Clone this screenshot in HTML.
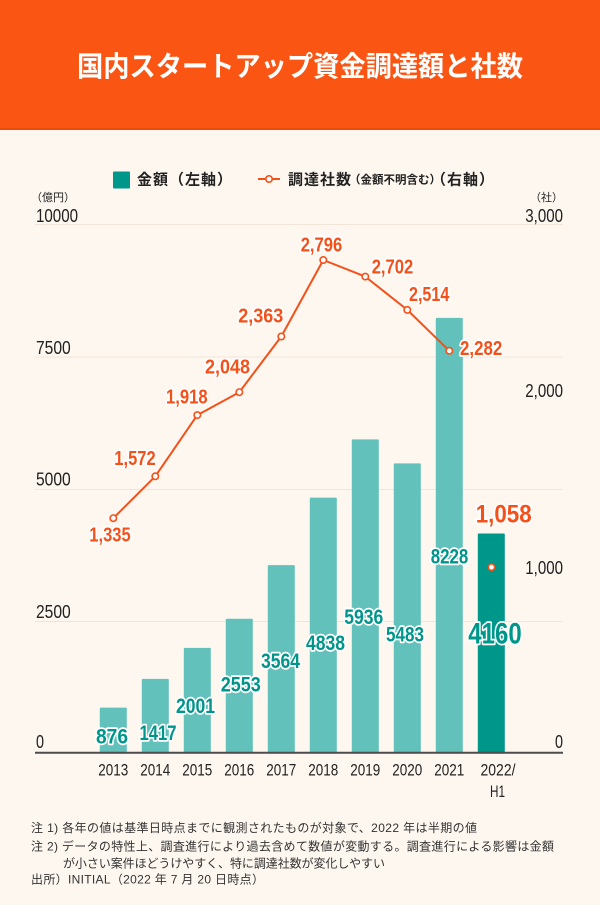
<!DOCTYPE html>
<html>
<head>
<meta charset="utf-8">
<style>
  html,body{margin:0;padding:0;background:#FEF7F0;}
  body{width:600px;height:905px;overflow:hidden;}
  svg{display:block;}
  .n{font-family:"Liberation Sans",sans-serif;}
  .j{font-family:"Liberation Sans","Noto Sans CJK JP",sans-serif;}
  .bl{font-family:"Liberation Sans",sans-serif;font-weight:bold;fill:#00948A;stroke:#fff;stroke-width:3.5;paint-order:stroke;stroke-linejoin:round;}
  .ol{font-family:"Liberation Sans",sans-serif;font-weight:bold;fill:#F4511A;stroke:#fff;stroke-width:3.5;paint-order:stroke;stroke-linejoin:round;}
  .ax{font-family:"Liberation Sans",sans-serif;font-size:18px;fill:#222;}
  .yr{font-family:"Liberation Sans",sans-serif;font-size:17px;fill:#222;}
  .fn{font-family:"Liberation Sans","Noto Sans CJK JP",sans-serif;font-size:12px;fill:#333;}
</style>
</head>
<body>
<svg width="600" height="905" viewBox="0 0 600 905" xmlns="http://www.w3.org/2000/svg">
  <!-- background -->
  <rect x="0" y="0" width="600" height="905" fill="#FEF7F0"/>
  <!-- header -->
  <rect x="0" y="0" width="600" height="130" fill="#FA5513"/>
  <rect x="0" y="128" width="600" height="2" fill="#EE4A0B"/>
  <text class="j" x="77" y="76" font-size="28" font-weight="bold" fill="#fff" textLength="446" lengthAdjust="spacingAndGlyphs">国内スタートアップ資金調達額と社数</text>

  <!-- legend -->
  <rect x="113" y="171.5" width="17" height="17" fill="#00978B" rx="1"/>
  <text class="j" x="137" y="184.5" font-size="15" font-weight="bold" fill="#222" letter-spacing="1">金額（左軸）</text>
  <line x1="258" y1="179" x2="280" y2="179" stroke="#F4511A" stroke-width="2"/>
  <circle cx="269" cy="179" r="3.2" fill="#fff" stroke="#F4511A" stroke-width="1.6"/>
  <text class="j" x="288" y="184.5" font-size="15" font-weight="bold" fill="#222" letter-spacing="1">調達社数</text>
  <text class="j" x="349" y="183.5" font-size="11.5" font-weight="bold" fill="#222">（金額不明含む）</text>
  <text class="j" x="431" y="184.5" font-size="15" font-weight="bold" fill="#222" letter-spacing="1">（右軸）</text>

  <!-- unit labels -->
  <text class="j" x="31" y="201" font-size="11" fill="#222">（億円）</text>
  <text class="j" x="530" y="201" font-size="11" fill="#222">（社）</text>

  <!-- gridlines -->
  <g stroke="#F2E5D8" stroke-width="1">
    <line x1="35" y1="224.5" x2="563" y2="224.5"/>
    <line x1="35" y1="357" x2="563" y2="357"/>
    <line x1="35" y1="489.5" x2="563" y2="489.5"/>
    <line x1="35" y1="621.5" x2="563" y2="621.5"/>
  </g>

  <!-- axis labels left -->
  <text class="ax" x="36" y="222" textLength="42" lengthAdjust="spacingAndGlyphs">10000</text>
  <text class="ax" x="36" y="354" textLength="34.7" lengthAdjust="spacingAndGlyphs">7500</text>
  <text class="ax" x="36" y="485.5" textLength="34.7" lengthAdjust="spacingAndGlyphs">5000</text>
  <text class="ax" x="36" y="618" textLength="34.7" lengthAdjust="spacingAndGlyphs">2500</text>
  <text class="ax" x="36" y="748" textLength="8" lengthAdjust="spacingAndGlyphs">0</text>
  <!-- axis labels right -->
  <text class="ax" x="525.3" y="222" textLength="37.7" lengthAdjust="spacingAndGlyphs">3,000</text>
  <text class="ax" x="525.3" y="397" textLength="37.7" lengthAdjust="spacingAndGlyphs">2,000</text>
  <text class="ax" x="525.3" y="574" textLength="37.7" lengthAdjust="spacingAndGlyphs">1,000</text>
  <text class="ax" x="555" y="748" textLength="8" lengthAdjust="spacingAndGlyphs">0</text>

  <!-- bars -->
  <g fill="#63C1BB">
    <rect x="99.8" y="707.6" width="27" height="46" rx="1"/>
    <rect x="141.8" y="678.9" width="27" height="74.7" rx="1"/>
    <rect x="183.8" y="647.9" width="27" height="105.7" rx="1"/>
    <rect x="225.8" y="618.7" width="27" height="134.9" rx="1"/>
    <rect x="267.8" y="565.1" width="27" height="188.5" rx="1"/>
    <rect x="309.8" y="497.6" width="27" height="256" rx="1"/>
    <rect x="351.8" y="439.4" width="27" height="314.2" rx="1"/>
    <rect x="393.8" y="463.4" width="27" height="290.2" rx="1"/>
    <rect x="435.8" y="317.9" width="27" height="435.7" rx="1"/>
  </g>
  <rect x="477.8" y="533.5" width="27" height="220.1" rx="1" fill="#00978B"/>

  <!-- baseline -->
  <line x1="35" y1="752.8" x2="563" y2="752.8" stroke="#4D4D4D" stroke-width="2"/>

  <!-- year labels -->
  <text class="yr" x="98.3" y="775.5" textLength="30" lengthAdjust="spacingAndGlyphs">2013</text>
  <text class="yr" x="140.3" y="775.5" textLength="30" lengthAdjust="spacingAndGlyphs">2014</text>
  <text class="yr" x="182.3" y="775.5" textLength="30" lengthAdjust="spacingAndGlyphs">2015</text>
  <text class="yr" x="224.3" y="775.5" textLength="30" lengthAdjust="spacingAndGlyphs">2016</text>
  <text class="yr" x="266.3" y="775.5" textLength="30" lengthAdjust="spacingAndGlyphs">2017</text>
  <text class="yr" x="308.3" y="775.5" textLength="30" lengthAdjust="spacingAndGlyphs">2018</text>
  <text class="yr" x="350.3" y="775.5" textLength="30" lengthAdjust="spacingAndGlyphs">2019</text>
  <text class="yr" x="392.3" y="775.5" textLength="30" lengthAdjust="spacingAndGlyphs">2020</text>
  <text class="yr" x="434.3" y="775.5" textLength="30" lengthAdjust="spacingAndGlyphs">2021</text>
  <text class="yr" x="480.5" y="775.5" textLength="35" lengthAdjust="spacingAndGlyphs">2022/</text>
  <text class="yr" x="490" y="797" textLength="15" lengthAdjust="spacingAndGlyphs">H1</text>

  <!-- line series -->
  <polyline fill="none" stroke="#F4511A" stroke-width="2" stroke-linejoin="round"
    points="113.3,518.2 155.3,476.3 197.3,415.1 239.3,392.2 281.3,336.5 323.3,260.0 365.3,276.6 407.3,309.9 449.3,350.8"/>
  <g fill="#fff" stroke="#F4511A" stroke-width="1.6">
    <circle cx="113.3" cy="518.2" r="3.2"/>
    <circle cx="155.3" cy="476.3" r="3.2"/>
    <circle cx="197.3" cy="415.1" r="3.2"/>
    <circle cx="239.3" cy="392.2" r="3.2"/>
    <circle cx="281.3" cy="336.5" r="3.2"/>
    <circle cx="323.3" cy="260.0" r="3.2"/>
    <circle cx="365.3" cy="276.6" r="3.2"/>
    <circle cx="407.3" cy="309.9" r="3.2"/>
    <circle cx="449.3" cy="350.8" r="3.2"/>
    <circle cx="491.5" cy="567.2" r="3.2"/>
  </g>

  <!-- bar value labels -->
  <text class="bl" x="96" y="743.3" font-size="21" textLength="32" lengthAdjust="spacingAndGlyphs">876</text>
  <text class="bl" x="139.5" y="740" font-size="21" textLength="37" lengthAdjust="spacingAndGlyphs">1417</text>
  <text class="bl" x="176" y="712.8" font-size="21" textLength="39" lengthAdjust="spacingAndGlyphs">2001</text>
  <text class="bl" x="220.7" y="691.5" font-size="21" textLength="40" lengthAdjust="spacingAndGlyphs">2553</text>
  <text class="bl" x="261" y="668.2" font-size="21" textLength="39" lengthAdjust="spacingAndGlyphs">3564</text>
  <text class="bl" x="306" y="650.2" font-size="21" textLength="39" lengthAdjust="spacingAndGlyphs">4838</text>
  <text class="bl" x="344.3" y="624.2" font-size="21" textLength="39" lengthAdjust="spacingAndGlyphs">5936</text>
  <text class="bl" x="386" y="641.5" font-size="21" textLength="38" lengthAdjust="spacingAndGlyphs">5483</text>
  <text class="bl" x="430.7" y="563.5" font-size="21" textLength="37.6" lengthAdjust="spacingAndGlyphs">8228</text>
  <text class="bl" x="468.3" y="643.3" font-size="30" textLength="53.4" lengthAdjust="spacingAndGlyphs" style="fill:#00978B">4160</text>

  <!-- line value labels -->
  <text class="ol" x="89.3" y="541.5" font-size="20.5" textLength="41.4" lengthAdjust="spacingAndGlyphs">1,335</text>
  <text class="ol" x="114.3" y="465" font-size="20.5" textLength="41.4" lengthAdjust="spacingAndGlyphs">1,572</text>
  <text class="ol" x="166" y="403.5" font-size="20.5" textLength="41.7" lengthAdjust="spacingAndGlyphs">1,918</text>
  <text class="ol" x="205" y="373.5" font-size="20.5" textLength="45" lengthAdjust="spacingAndGlyphs">2,048</text>
  <text class="ol" x="238.3" y="322.5" font-size="20.5" textLength="45" lengthAdjust="spacingAndGlyphs">2,363</text>
  <text class="ol" x="300.7" y="251.5" font-size="20.5" textLength="41.6" lengthAdjust="spacingAndGlyphs">2,796</text>
  <text class="ol" x="371.7" y="273.5" font-size="20.5" textLength="41.6" lengthAdjust="spacingAndGlyphs">2,702</text>
  <text class="ol" x="409" y="301" font-size="20.5" textLength="40.3" lengthAdjust="spacingAndGlyphs">2,514</text>
  <text class="ol" x="460" y="355" font-size="20.5" textLength="42.3" lengthAdjust="spacingAndGlyphs">2,282</text>
  <text class="ol" x="475.7" y="522.5" font-size="25" textLength="56" lengthAdjust="spacingAndGlyphs">1,058</text>

  <!-- footnotes -->
  <text class="fn" x="31" y="832" textLength="446">注 1) 各年の値は基準日時点までに観測されたものが対象で、2022 年は半期の値</text>
  <text class="fn" x="31" y="850.5" textLength="523">注 2) データの特性上、調査進行により過去含めて数値が変動する。調査進行による影響は金額</text>
  <text class="fn" x="63" y="867.5" textLength="322">が小さい案件ほどうけやすく、特に調達社数が変化しやすい</text>
  <text class="fn" x="31" y="883.5" textLength="233">出所）INITIAL（2022 年 7 月 20 日時点）</text>
</svg>
</body>
</html>
